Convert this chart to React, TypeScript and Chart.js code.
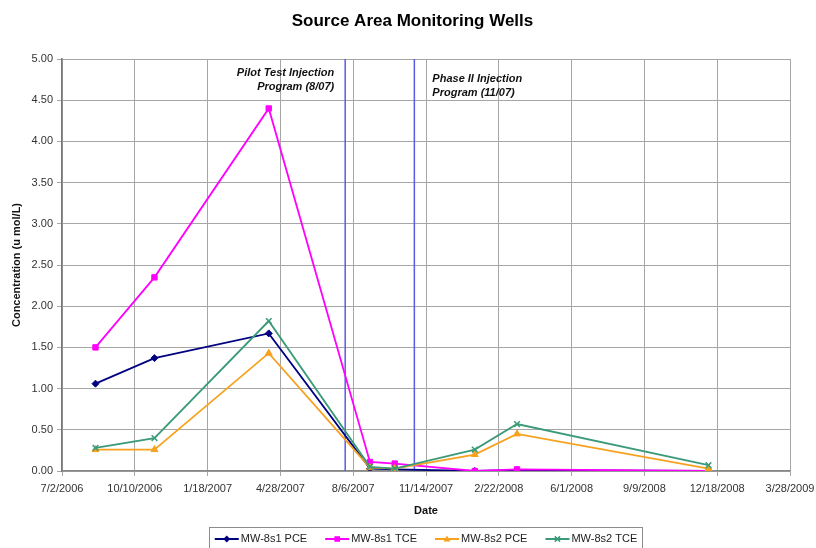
import React, { useEffect, useRef } from "react";
import { Chart, registerables } from "chart.js";

Chart.register(...registerables);

// ---------- data ----------
const chartTitle = "Source Area Monitoring Wells";
const xAxisTitle = "Date";
const yAxisTitle = "Concentration (u mol/L)";

const axisStartDate = "7/2/2006";
const axisEndDate = "3/28/2009";
const xTickStepDays = 100;
const yTicks = [0, 0.5, 1, 1.5, 2, 2.5, 3, 3.5, 4, 4.5, 5];

const sampleDates = [
  "8/17/2006",
  "11/6/2006",
  "4/12/2007",
  "8/29/2007",
  "10/2/2007",
  "1/20/2008",
  "3/18/2008",
  "12/6/2008",
];
const mw8s1PCE = [1.06, 1.37, 1.67, 0.03, 0.02, 0.0, 0.01, 0.0];
const mw8s1TCE = [1.5, 2.35, 4.4, 0.11, 0.09, 0.0, 0.02, 0.0];
const mw8s2PCE = [0.26, 0.26, 1.43, 0.04, 0.03, 0.2, 0.45, 0.03];
const mw8s2TCE = [0.28, 0.4, 1.82, 0.05, 0.03, 0.26, 0.57, 0.07];

const seriesNames = ["MW-8s1 PCE", "MW-8s1 TCE", "MW-8s2 PCE", "MW-8s2 TCE"];
const seriesValues = [mw8s1PCE, mw8s1TCE, mw8s2PCE, mw8s2TCE];

const injectionDates = ["7/26/2007", "10/29/2007"];
const injectionLabels = [
  ["Pilot Test Injection", "Program (8/07)"],
  ["Phase II Injection", "Program (11/07)"],
];

// ---------- helpers ----------
const DAY = 86400000;
const parseDate = (s: string) => {
  const [m, d, y] = s.split("/").map(Number);
  return Date.UTC(y, m - 1, d);
};
const ORIGIN = parseDate(axisStartDate);
const toDay = (s: string) => Math.round((parseDate(s) - ORIGIN) / DAY);
const fromDay = (n: number) => {
  const dt = new Date(ORIGIN + n * DAY);
  return `${dt.getUTCMonth() + 1}/${dt.getUTCDate()}/${dt.getUTCFullYear()}`;
};

const FONT = "'Liberation Sans', Arial, sans-serif";

const styles = [
  { color: "#000080", point: "rectRot", radius: 3.5 },
  { color: "#FF00FF", point: "rect", radius: 3.8 },
  { color: "#F7A21E", point: "triangle", radius: 4 },
  { color: "#3B9A78", point: "crossRot", radius: 4 },
];

function drawMarker(ctx: CanvasRenderingContext2D, kind: string, x: number, y: number, r: number, color: string) {
  ctx.save();
  ctx.fillStyle = color;
  ctx.strokeStyle = color;
  ctx.lineWidth = 1.5;
  ctx.beginPath();
  if (kind === "rectRot") {
    ctx.moveTo(x, y - r);
    ctx.lineTo(x + r, y);
    ctx.lineTo(x, y + r);
    ctx.lineTo(x - r, y);
    ctx.closePath();
    ctx.fill();
  } else if (kind === "rect") {
    ctx.rect(x - r * 0.8, y - r * 0.8, r * 1.6, r * 1.6);
    ctx.fill();
  } else if (kind === "triangle") {
    ctx.moveTo(x, y - r);
    ctx.lineTo(x + r, y + r * 0.7);
    ctx.lineTo(x - r, y + r * 0.7);
    ctx.closePath();
    ctx.fill();
  } else {
    const d = r * 0.75;
    ctx.moveTo(x - d, y - d);
    ctx.lineTo(x + d, y + d);
    ctx.moveTo(x + d, y - d);
    ctx.lineTo(x - d, y + d);
    ctx.stroke();
  }
  ctx.restore();
}

const decorPlugin = {
  id: "decor",
  beforeDatasetsDraw(chart: any) {
    const { ctx, chartArea, scales } = chart;
    ctx.save();
    ctx.strokeStyle = "#5B5BE8";
    ctx.lineWidth = 1.5;
    injectionDates.forEach((d) => {
      const x = scales.x.getPixelForValue(toDay(d));
      ctx.beginPath();
      ctx.moveTo(x, chartArea.top);
      ctx.lineTo(x, chartArea.bottom);
      ctx.stroke();
    });
    ctx.restore();
  },
  afterDraw(chart: any) {
    const { ctx, scales, chartArea } = chart;
    ctx.save();
    // title
    ctx.fillStyle = "#000";
    ctx.font = `bold 17px ${FONT}`;
    ctx.textAlign = "center";
    ctx.textBaseline = "middle";
    ctx.fillText(chartTitle, 412.5, 21);

    // annotations
    ctx.font = `italic bold 11px ${FONT}`;
    ctx.fillStyle = "#111";
    const x1 = scales.x.getPixelForValue(toDay(injectionDates[0]));
    ctx.textAlign = "right";
    ctx.fillText(injectionLabels[0][0], x1 - 11, chartArea.top + 14);
    ctx.fillText(injectionLabels[0][1], x1 - 11, chartArea.top + 28);
    const x2 = scales.x.getPixelForValue(toDay(injectionDates[1]));
    ctx.textAlign = "left";
    ctx.fillText(injectionLabels[1][0], x2 + 18, chartArea.top + 19.5);
    ctx.fillText(injectionLabels[1][1], x2 + 18, chartArea.top + 33.5);

    // legend
    ctx.font = `11px ${FONT}`;
    const lineLen = 24;
    const gap = 2;
    const itemGap = 18;
    const widths = seriesNames.map((n) => ctx.measureText(n).width);
    const total = widths.reduce((a, w) => a + lineLen + gap + w, 0) + itemGap * (seriesNames.length - 1);
    const boxL = 209.5;
    const boxR = 642.5;
    const boxT = 527.5;
    ctx.strokeStyle = "#8c8c8c";
    ctx.lineWidth = 1;
    ctx.strokeRect(boxL, boxT, boxR - boxL, 25);
    let x = (boxL + boxR) / 2 - total / 2;
    const cy = 539;
    seriesNames.forEach((n, i) => {
      const st = styles[i];
      ctx.strokeStyle = st.color;
      ctx.lineWidth = 2;
      ctx.beginPath();
      ctx.moveTo(x, cy);
      ctx.lineTo(x + lineLen, cy);
      ctx.stroke();
      drawMarker(ctx, st.point, x + lineLen / 2, cy, 3.5, st.color);
      ctx.fillStyle = "#222";
      ctx.textAlign = "left";
      ctx.textBaseline = "middle";
      ctx.fillText(n, x + lineLen + gap, cy);
      x += lineLen + gap + widths[i] + itemGap;
    });
    ctx.restore();
  },
};

export default function App() {
  const ref = useRef<HTMLCanvasElement | null>(null);

  useEffect(() => {
    if (!ref.current) return;
    const datasets = seriesNames.map((name, i) => ({
      label: name,
      data: sampleDates.map((d, j) => ({ x: toDay(d), y: seriesValues[i][j] })),
      borderColor: styles[i].color,
      backgroundColor: styles[i].color,
      pointStyle: styles[i].point as any,
      pointRadius: styles[i].radius,
      pointBorderWidth: styles[i].point === "crossRot" ? 1.5 : 1,
      borderWidth: 1.8,
      tension: 0,
      order: seriesNames.length - i,
    }));

    const chart = new Chart(ref.current, {
      type: "line",
      data: { datasets },
      plugins: [decorPlugin],
      options: {
        animation: false,
        responsive: false,
        devicePixelRatio: 1,
        layout: { padding: { top: 59, right: 26, left: 0, bottom: 0 } },
        plugins: {
          legend: { display: false },
          title: { display: false },
          tooltip: { enabled: false },
        },
        scales: {
          x: {
            type: "linear",
            min: 0,
            max: toDay(axisEndDate),
            afterFit: (s: any) => {
              s.height = 77;
              s.paddingLeft = 0;
              s.paddingRight = 0;
            },
            afterBuildTicks: (s: any) => {
              const t = [];
              for (let v = 0; v <= toDay(axisEndDate); v += xTickStepDays) t.push({ value: v });
              s.ticks = t;
            },
            ticks: {
              autoSkip: false,
              maxRotation: 0,
              padding: 6,
              color: "#333",
              font: { family: FONT, size: 11 },
              callback: (v: any) => fromDay(Number(v)),
            },
            grid: { color: "#a6a6a6", lineWidth: 1, tickLength: 5 },
            border: { color: "#888", width: 1.5 },
            title: {
              display: true,
              text: xAxisTitle,
              color: "#111",
              font: { family: FONT, size: 11, weight: "bold" },
              padding: { top: 0, bottom: 30.4 },
            },
          },
          y: {
            type: "linear",
            min: yTicks[0],
            max: yTicks[yTicks.length - 1],
            afterFit: (s: any) => {
              s.width = 62;
            },
            afterBuildTicks: (s: any) => {
              s.ticks = yTicks.map((v) => ({ value: v }));
            },
            ticks: {
              padding: 4,
              color: "#333",
              font: { family: FONT, size: 11 },
              callback: (v: any) => Number(v).toFixed(2),
            },
            grid: { color: "#a6a6a6", lineWidth: 1, tickLength: 5 },
            border: { color: "#777", width: 1.5 },
            title: {
              display: true,
              text: yAxisTitle,
              color: "#111",
              font: { family: FONT, size: 11, weight: "bold" },
              padding: { top: 10.4, bottom: 0 },
            },
          },
        },
      },
    });
    return () => chart.destroy();
  }, []);

  return (
    <div style={{ position: "fixed", left: 0, top: 0, width: 816, height: 548, background: "#fff" }}>
      <canvas ref={ref} width={816} height={548} style={{ display: "block" }} />
    </div>
  );
}
